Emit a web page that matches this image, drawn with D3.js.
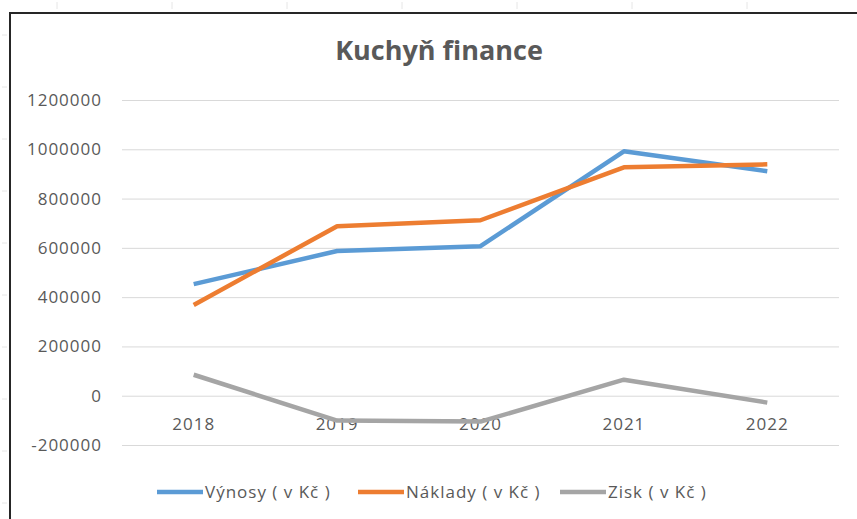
<!DOCTYPE html>
<html>
<head>
<meta charset="utf-8">
<script src="https://cdn.jsdelivr.net/npm/d3@7"></script>
<style>
  body { margin: 0; background: #fff; }
  svg { display: block; font-family: "Open Sans", "Noto Sans", sans-serif; }
</style>
</head>
<body>
<div class="chart"></div>
<script>
const years = ["2018", "2019", "2020", "2021", "2022"];
const vynosy = [453000, 587000, 607000, 992000, 911000];
const naklady = [368000, 688000, 712000, 927000, 939000];
const zisk = [85000, -101000, -105000, 65000, -28000];
const yTicks = [-200000, 0, 200000, 400000, 600000, 800000, 1000000, 1200000];

const series = [
    {name: "Výnosy ( v Kč )", values: vynosy, color: "#5b9bd5"},
    {name: "Náklady ( v Kč )", values: naklady, color: "#ed7d31"},
    {name: "Zisk ( v Kč )", values: zisk, color: "#a5a5a5"}
];

const w = 857;
const h = 519;
const svg = d3.select('.chart')
                .append('svg')
                .attr('width', w)
                .attr('height', h);

//faint ruler marks outside the chart frame
svg.append("g")
    .selectAll("line")
    .data(d3.range(57, 857, 115))
    .enter()
    .append("line")
    .attr("x1", d => d).attr("x2", d => d)
    .attr("y1", 2).attr("y2", 9)
    .attr("stroke", "#e6e6e6");

svg.append("g")
    .selectAll("line")
    .data(d3.range(35, 519, 52))
    .enter()
    .append("line")
    .attr("x1", 2).attr("x2", 7)
    .attr("y1", d => d).attr("y2", d => d)
    .attr("stroke", "#e6e6e6");

//chart frame (open on the right and bottom)
svg.append("path")
    .attr("d", "M10,530V13H857")
    .attr("fill", "none")
    .attr("stroke", "#262626")
    .attr("stroke-width", 2);

const x = d3.scaleBand().domain(years).range([122, 839]);
const y = d3.scaleLinear().domain([-200000, 1200000]).range([445, 100]);

//gridlines
svg.append("g")
    .attr("transform", "translate(122,0)")
    .call(d3.axisLeft(y).tickValues(yTicks).tickSize(-717).tickFormat(""))
    .call(g => g.select(".domain").remove())
    .call(g => g.selectAll("line").attr("stroke", "#d9d9d9"));

//y labels
svg.append("g")
    .selectAll("text")
    .data(yTicks)
    .enter()
    .append("text")
    .text(d => d)
    .attr("x", 102)
    .attr("y", d => y(d) + 6)
    .attr("text-anchor", "end")
    .attr("font-size", 17)
    .attr("letter-spacing", 1)
    .attr("fill", "#595959");

//x labels sit below the zero line
svg.append("g")
    .selectAll("text")
    .data(years)
    .enter()
    .append("text")
    .text(d => d)
    .attr("x", d => x(d) + x.bandwidth() / 2)
    .attr("y", y(0) + 34)
    .attr("text-anchor", "middle")
    .attr("font-size", 17)
    .attr("letter-spacing", 1)
    .attr("fill", "#595959");

const line = d3.line()
    .x((d, i) => x(years[i]) + x.bandwidth() / 2)
    .y(d => y(d));

svg.selectAll(".series")
    .data(series)
    .enter()
    .append("path")
    .attr("d", d => line(d.values))
    .attr("fill", "none")
    .attr("stroke", d => d.color)
    .attr("stroke-width", 4.5)
    .attr("stroke-linejoin", "round");

//title
svg.append("text")
    .text("Kuchyň finance")
    .attr("x", 439)
    .attr("y", 60)
    .attr("text-anchor", "middle")
    .attr("font-size", 27)
    .attr("font-weight", "bold")
    .attr("fill", "#595959");

//legend
const legendX = [157, 358, 560];
const legend = svg.selectAll(".legend")
    .data(series)
    .enter()
    .append("g")
    .attr("transform", (d, i) => `translate(${legendX[i]},492)`);

legend.append("line")
    .attr("x1", 0).attr("x2", 46)
    .attr("stroke", d => d.color)
    .attr("stroke-width", 4.5);

legend.append("text")
    .text(d => d.name)
    .attr("x", 48)
    .attr("y", 6)
    .attr("font-size", 17)
    .attr("letter-spacing", 1)
    .attr("fill", "#595959");
</script>
</body>
</html>
